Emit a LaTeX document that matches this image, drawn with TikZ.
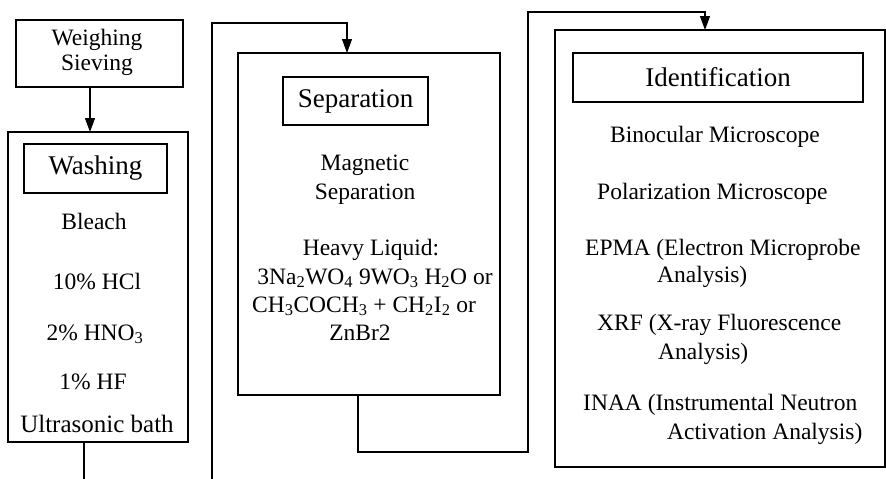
\documentclass[tikz,border=0pt]{standalone}
\usepackage{fontspec}
\setmainfont{Liberation Serif}
\usetikzlibrary{arrows.meta}
\begin{document}
\begin{tikzpicture}[x=1pt,y=-1pt,
  box/.style={draw, line width=1.2pt, inner sep=0pt, outer sep=0pt, anchor=north west},
  body/.style={font=\fontsize{23.5}{27}\selectfont, inner sep=0pt, anchor=base},
  bodyl/.style={body, anchor=base west},
  ttl/.style={font=\fontsize{27}{32}\selectfont, inner sep=0pt},
  link/.style={line width=1.2pt},
  arr/.style={link, -{Triangle[length=14pt,width=10pt]}}]
\clip (0,0) rectangle (886,479);
\fill[white] (0,0) rectangle (886,479);

% ---- Weighing / Sieving ----
\node[box, minimum width=167pt, minimum height=67pt] (weigh) at (16,20) {};
\node[body] (weighA) at (97,45) {Weighing};
\node[body] (weighB) at (97,70) {Sieving};

% ---- Washing ----
\node[box, minimum width=180pt, minimum height=310pt] (wash) at (8,132) {};
\node[box, minimum width=143pt, minimum height=49pt] (washT) at (24,144) {};
\node[ttl] (washL) at (washT.center) {Washing};
\node[body] (w1) at (94,229) {Bleach};
\node[body] (w2) at (97,289) {10\% HCl};
\node[body] (w3) at (95,340) {2\% HNO\textsubscript{3}};
\node[body] (w4) at (93,389) {1\% HF};
\node[body, font=\fontsize{25}{28}\selectfont] (w5) at (97,432) {Ultrasonic bath};

% ---- Separation ----
\node[box, minimum width=262pt, minimum height=342pt] (sep) at (238,53) {};
\node[box, minimum width=145pt, minimum height=48pt] (sepT) at (283,77) {};
\node[ttl] (sepL) at (sepT.center) {Separation};
\node[body] (s1) at (365,170) {Magnetic};
\node[body] (s2) at (365,199) {Separation};
\node[body] (s3) at (371,255) {Heavy Liquid:};
\node[body] (s4) at (375,284) {3Na\textsubscript{2}WO\textsubscript{4} 9WO\textsubscript{3} H\textsubscript{2}O or};
\node[bodyl] (s5) at (252,312) {CH\textsubscript{3}COCH\textsubscript{3} + CH\textsubscript{2}I\textsubscript{2} or};
\node[body] (s6) at (360,340) {ZnBr2};

% ---- Identification ----
\node[box, minimum width=330pt, minimum height=437pt] (ident) at (555,30) {};
\node[box, minimum width=290pt, minimum height=49pt] (identT) at (573,53) {};
\node[ttl] (identL) at (identT.center) {Identification};
\node[bodyl] (i1) at (610,142) {Binocular Microscope};
\node[bodyl] (i2) at (597,199) {Polarization Microscope};
\node[bodyl] (i3) at (585,255) {EPMA (Electron Microprobe};
\node[bodyl] (i4) at (657,282) {Analysis)};
\node[bodyl] (i5) at (597,330) {XRF (X-ray Fluorescence};
\node[bodyl] (i6) at (658,359) {Analysis)};
\node[bodyl] (i7) at (583,410) {INAA (Instrumental Neutron};
\node[bodyl] (i8) at (667,439) {Activation Analysis)};

% ---- connectors ----
\coordinate (ka) at (90,0);
\draw[arr] (weigh.south -| ka) -- (wash.north -| ka);

\coordinate (kb) at (84,0);
\coordinate (low) at (0,500);
\coordinate (kc) at (212,23);
\coordinate (kd) at (347,0);
\draw[arr] (wash.south -| kb) -- (kb |- low) -| (kc) -| (sep.north -| kd);

\coordinate (ke) at (358,452);
\coordinate (kf) at (528,12);
\coordinate (kg) at (705,0);
\draw[arr] (sep.south -| ke) -- (ke) -| (kf) -| (ident.north -| kg);
\end{tikzpicture}
\end{document}
